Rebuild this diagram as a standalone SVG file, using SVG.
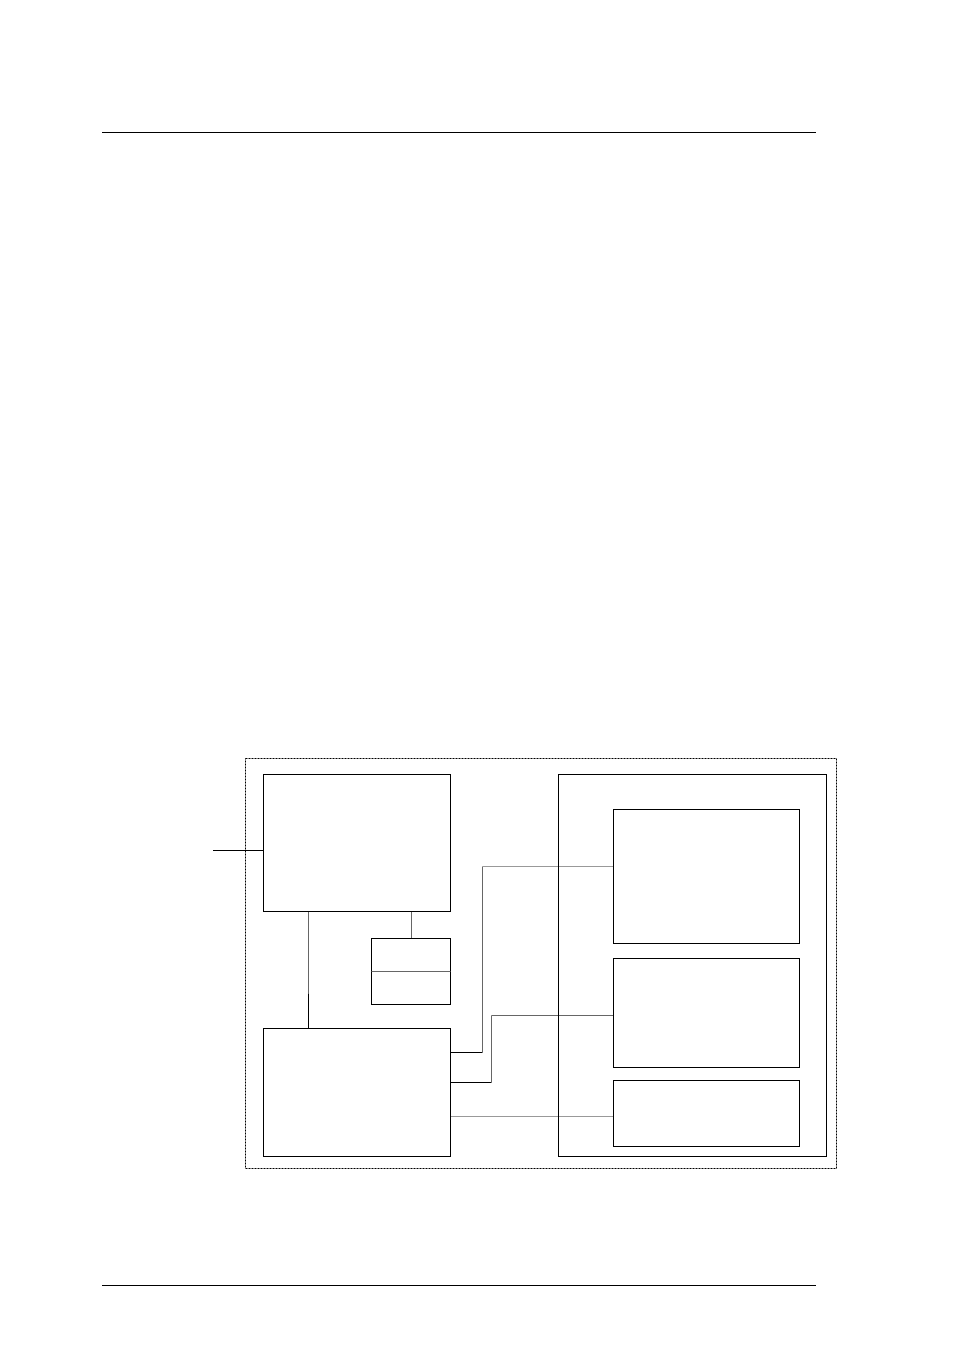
<svg xmlns="http://www.w3.org/2000/svg" width="954" height="1351" viewBox="0 0 954 1351">
<style>
.box{fill:none;stroke:#000;stroke-width:1}
.ln{fill:none;stroke:#000;stroke-width:1}
.gray{fill:none;stroke:#666;stroke-width:1}
.lgray{fill:none;stroke:#999;stroke-width:1}
.dash{fill:none;stroke:#000;stroke-width:1;stroke-dasharray:2,1}
</style>
<rect width="954" height="1351" fill="#fff"/>
<line class="ln" x1="102" y1="132.5" x2="816" y2="132.5"/>
<line class="ln" x1="102" y1="1285.5" x2="816" y2="1285.5"/>
<g id="boundary"><rect class="dash" x="245.5" y="758.5" width="591" height="410"/></g>
<g id="connectors">
<line class="ln" x1="213" y1="850.5" x2="263.5" y2="850.5"/>
<line class="gray" x1="308.5" y1="911.5" x2="308.5" y2="993.5"/>
<line class="ln" x1="308.5" y1="993.5" x2="308.5" y2="1028.5"/>
<line class="gray" x1="411.5" y1="911.5" x2="411.5" y2="938.5"/>
<line class="ln" x1="450.5" y1="1052.5" x2="482.5" y2="1052.5"/>
<polyline class="gray" points="482.5,1052.5 482.5,866.5"/>
<line class="lgray" x1="482.5" y1="866.5" x2="613.5" y2="866.5"/>
<line class="ln" x1="450.5" y1="1082.5" x2="491.5" y2="1082.5"/>
<polyline class="gray" points="491.5,1082.5 491.5,1015.5 613.5,1015.5"/>
<line class="lgray" x1="450.5" y1="1116.5" x2="613.5" y2="1116.5"/>
</g>
<g id="nodeA"><rect class="box" x="263.5" y="774.5" width="187" height="137"/></g>
<g id="nodeSmall"><rect class="box" x="371.5" y="938.5" width="79" height="66"/><line class="gray" x1="371.5" y1="971.5" x2="450.5" y2="971.5"/></g>
<g id="nodeB"><rect class="box" x="263.5" y="1028.5" width="187" height="128"/></g>
<g id="container"><rect class="box" x="558.5" y="774.5" width="268" height="382"/></g>
<g id="nodeC1"><rect class="box" x="613.5" y="809.5" width="186" height="134"/></g>
<g id="nodeC2"><rect class="box" x="613.5" y="958.5" width="186" height="109"/></g>
<g id="nodeC3"><rect class="box" x="613.5" y="1080.5" width="186" height="66"/></g>
</svg>
